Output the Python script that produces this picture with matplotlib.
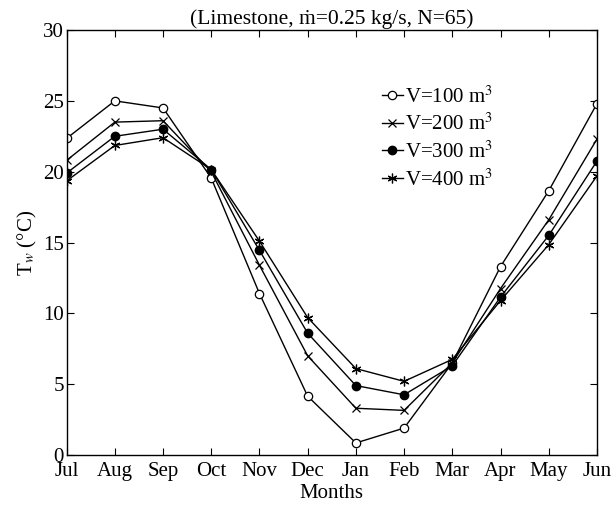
import matplotlib
matplotlib.use("Agg")
import matplotlib.pyplot as plt
import numpy as np

plt.rcParams['font.family'] = ['Liberation Serif', 'DejaVu Serif']
plt.rcParams['mathtext.fontset'] = 'stix'

months = ['Jul', 'Aug', 'Sep', 'Oct', 'Nov', 'Dec', 'Jan', 'Feb', 'Mar', 'Apr', 'May', 'Jun']
v100 = [22.35, 25.0, 24.5, 19.55, 11.4, 4.15, 0.85, 1.9, 6.5, 13.3, 18.65, 24.8]
v200 = [20.8, 23.5, 23.6, 20.0, 13.4, 7.0, 3.3, 3.15, 6.5, 11.75, 16.6, 22.3]
v300 = [19.9, 22.5, 23.0, 20.15, 14.45, 8.6, 4.9, 4.25, 6.3, 11.15, 15.5, 20.75]
v400 = [19.35, 21.85, 22.4, 20.15, 15.1, 9.7, 6.1, 5.2, 6.75, 10.9, 14.85, 19.7]
labels = ['V=100 m$^3$', 'V=200 m$^3$', 'V=300 m$^3$', 'V=400 m$^3$']

fig = plt.figure(figsize=(6.11, 5.11), dpi=100)
ax = fig.add_axes([0.109, 0.1096, 0.868, 0.8316])

x = np.arange(len(months))
ax.plot(x, v100, '-o', color='k', lw=1, ms=6, mfc='white', mew=0.9, label=labels[0])
ax.plot(x, v200, '-x', color='k', lw=1, ms=6, mew=0.9, label=labels[1])
ax.plot(x, v300, '-o', color='k', lw=1, ms=6, mfc='k', label=labels[2])
ax.plot(x, v400, '-', marker=(6, 2, 0), color='k', lw=1, ms=7, mew=0.9, label=labels[3])

ax.set_xlim(0, 11)
ax.set_ylim(0, 30)
ax.set_xticks(x)
ax.set_xticklabels(months)
ax.set_yticks(np.arange(0, 31, 5))
ax.tick_params(direction='in', top=True, right=True, labelsize=15, length=5, pad=2)
ax.tick_params(axis='x', pad=5)
for s in ax.spines.values():
    s.set_linewidth(1)

ax.set_xlabel('Months', fontsize=15, labelpad=2)
ax.set_ylabel('T$_w$ (°C)', fontsize=15, labelpad=3)
ax.set_title('(Limestone, \u1e41=0.25 kg/s, N=65)', fontsize=15.5, pad=4)

ax.legend(loc='upper right', bbox_to_anchor=(0.82, 0.888), frameon=False, fontsize=15,
          handlelength=1.0, handletextpad=0.1, labelspacing=0.3, borderaxespad=0)

fig.savefig('out.png', dpi=100)
